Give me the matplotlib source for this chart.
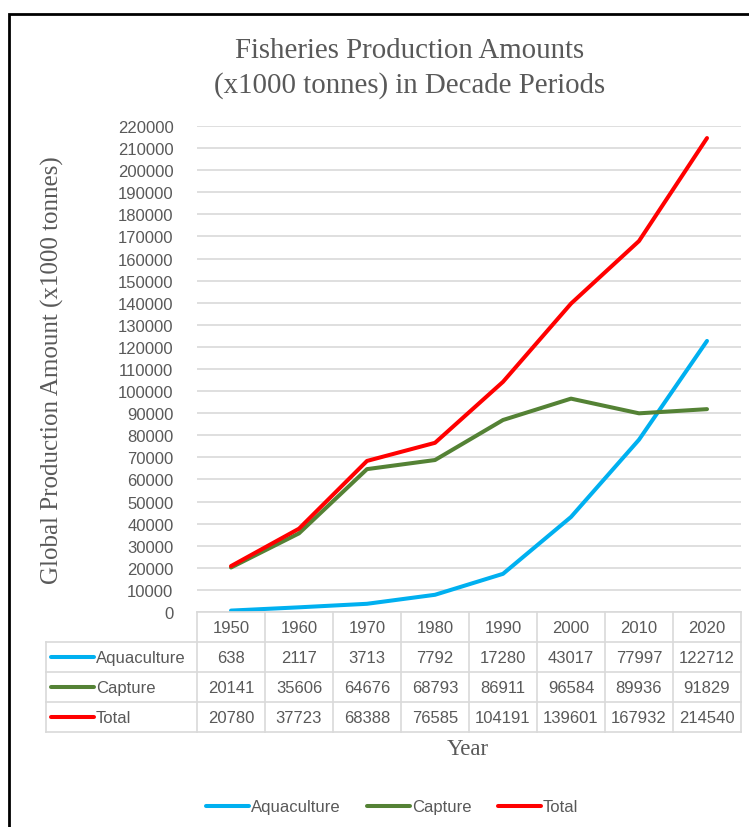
import matplotlib
matplotlib.use('Agg')
import matplotlib.pyplot as plt
from matplotlib.lines import Line2D

years = ['1950', '1960', '1970', '1980', '1990', '2000', '2010', '2020']
aquaculture = [638, 2117, 3713, 7792, 17280, 43017, 77997, 122712]
capture = [20141, 35606, 64676, 68793, 86911, 96584, 89936, 91829]
total = [20780, 37723, 68388, 76585, 104191, 139601, 167932, 214540]

series_names = ['Aquaculture', 'Capture', 'Total']
series_vals = [aquaculture, capture, total]
series_cols = ['#00B0F0', '#548235', '#FF0000']

TXT = '#595959'
GRID = '#D9D9D9'
SANS = 'Liberation Sans'
SERIF = 'Liberation Serif'

W, H = 749, 828
fig = plt.figure(figsize=(W / 100, H / 100), dpi=100)

# plot area in pixels
L, R, T, B = 197, 741, 127, 613
ax = fig.add_axes([L / W, 1 - B / H, (R - L) / W, (B - T) / H], zorder=2)
ax.patch.set_visible(False)

xs = list(range(len(years)))
for name, vals, col in zip(series_names, series_vals, series_cols):
    ax.plot(xs, vals, color=col, lw=2.9, solid_capstyle='round', label=name)

ax.set_xlim(-0.5, len(years) - 0.5)
ax.set_ylim(0, 220000)
ax.set_yticks(range(0, 220001, 10000))
ax.set_xticks([])
ax.grid(axis='y', color=GRID, lw=1.2)
ax.set_axisbelow(True)
for s in ['left', 'right', 'top']:
    ax.spines[s].set_visible(False)
ax.spines['bottom'].set_color(GRID)
ax.spines['bottom'].set_linewidth(1.2)
ax.tick_params(axis='y', length=0, pad=17, labelsize=12, labelcolor=TXT)
for lab in ax.get_yticklabels():
    lab.set_family(SANS)

# titles
fig.text(410 / W, 1 - 51 / H, 'Fisheries Production Amounts', ha='center', va='center',
         fontsize=20.8, family=SERIF, color=TXT)
fig.text(410 / W, 1 - 86 / H, '(x1000 tonnes) in Decade Periods', ha='center', va='center',
         fontsize=20.8, family=SERIF, color=TXT)
fig.text(52 / W, 1 - 370 / H, 'Global Production Amount (x1000 tonnes)', rotation=90,
         ha='center', va='center', fontsize=18, family=SERIF, color=TXT)
fig.text(468 / W, 1 - 750 / H, 'Year', ha='center', va='center', fontsize=16.5,
         family=SERIF, color=TXT)

# overlay in pixel coords for the border and data table
ov = fig.add_axes([0, 0, 1, 1], zorder=1)
ov.set_xlim(0, W)
ov.set_ylim(H, 0)
ov.axis('off')

ov.plot([9, 9, W + 5], [H + 5, 15, 15], color='black', lw=2, clip_on=False,
        solid_joinstyle='miter')

colw = (R - L) / len(years)
rows = [613, 643, 673, 703, 733]
TL = 46
for i in range(len(years) + 1):
    x = L + i * colw
    ov.plot([x, x], [rows[0], rows[-1]], color=GRID, lw=1.2)
ov.plot([TL, TL], [rows[1], rows[-1]], color=GRID, lw=1.2)
for y in rows[1:]:
    ov.plot([TL, R], [y, y], color=GRID, lw=1.2)

for i, yr in enumerate(years):
    ov.text(L + (i + 0.5) * colw, (rows[0] + rows[1]) / 2 + 1, yr, ha='center', va='center',
            fontsize=12, family=SANS, color=TXT)
for r, (name, vals, col) in enumerate(zip(series_names, series_vals, series_cols)):
    yc = (rows[r + 1] + rows[r + 2]) / 2 + 1
    ov.plot([51, 94], [yc - 1, yc - 1], color=col, lw=2.9, solid_capstyle='round')
    ov.text(96, yc, name, ha='left', va='center', fontsize=12, family=SANS, color=TXT)
    for i, v in enumerate(vals):
        ov.text(L + (i + 0.5) * colw, yc, str(v), ha='center', va='center',
                fontsize=12, family=SANS, color=TXT)

handles = [Line2D([], [], color=c, lw=2.9, solid_capstyle='round') for c in series_cols]
leg = fig.legend(handles, series_names, loc='center', bbox_to_anchor=(392 / W, 1 - 808 / H),
                 ncol=3, frameon=False, handlelength=2.6, handletextpad=0.1,
                 columnspacing=1.6, prop={'family': SANS, 'size': 12})
for t in leg.get_texts():
    t.set_color(TXT)

fig.savefig('out.png', dpi=100)
